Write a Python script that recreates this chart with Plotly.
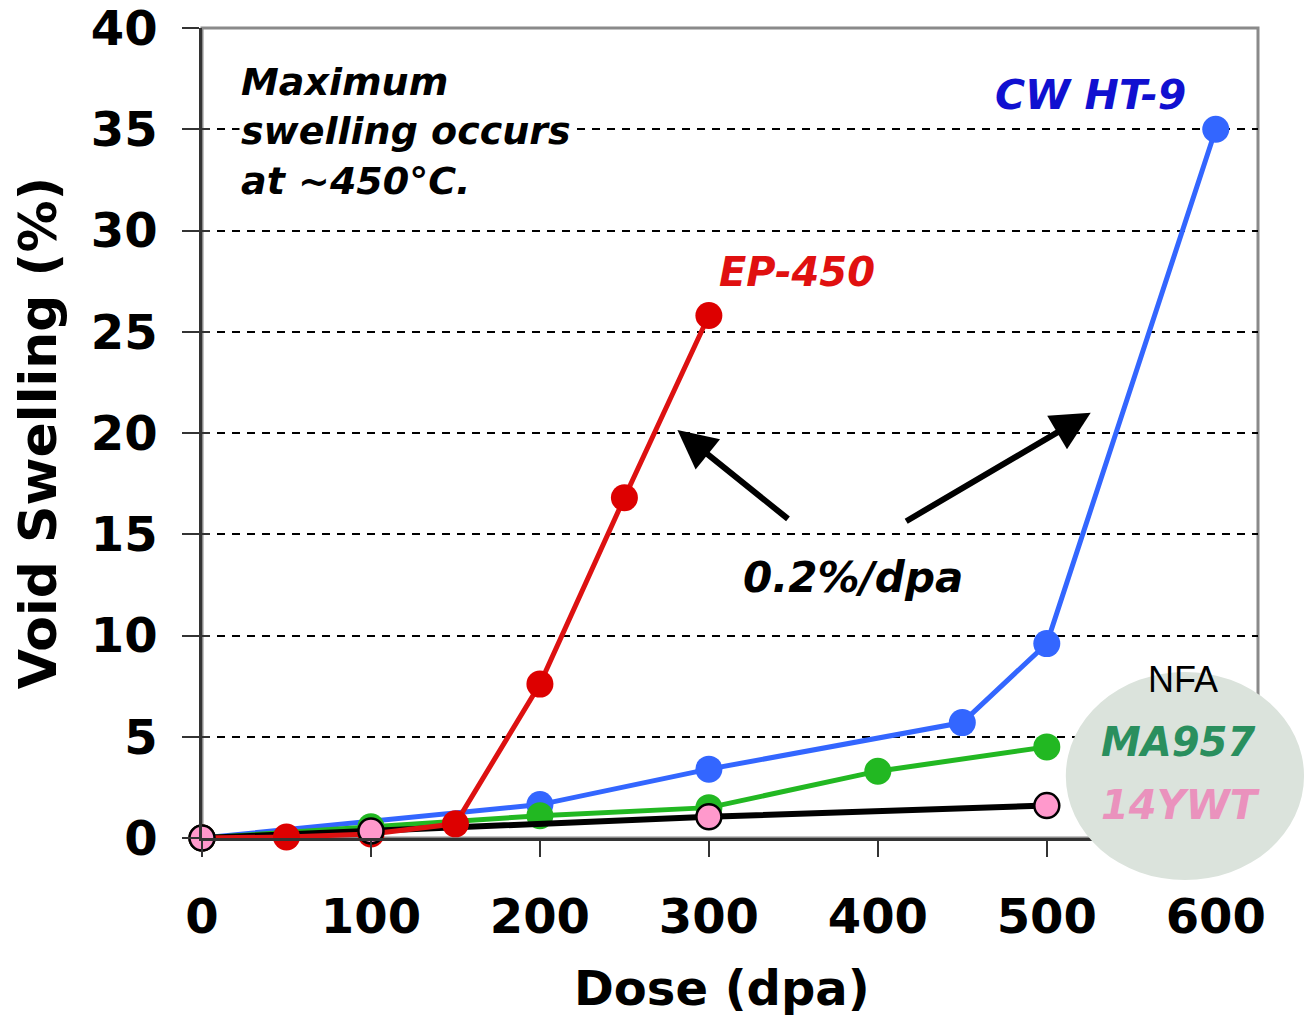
import plotly.graph_objects as go

# Void swelling vs dose for several alloys
ep450_dose = [0, 50, 100, 150, 200, 250, 300]
ep450_swell = [0.0, 0.05, 0.2, 0.7, 7.6, 16.8, 25.8]

ht9_dose = [0, 200, 300, 450, 500, 600]
ht9_swell = [0.0, 1.65, 3.4, 5.7, 9.6, 35.0]

ma957_dose = [0, 100, 200, 300, 400, 500]
ma957_swell = [0.0, 0.55, 1.1, 1.5, 3.3, 4.5]

ywt14_dose = [0, 100, 300, 500]
ywt14_swell = [0.0, 0.35, 1.05, 1.6]

x_ticks = [0, 100, 200, 300, 400, 500, 600]
y_ticks = [0, 5, 10, 15, 20, 25, 30, 35, 40]

FONT = "DejaVu Sans"
MS = 27

fig = go.Figure()

fig.add_trace(go.Scatter(
    x=ht9_dose, y=ht9_swell, mode="lines+markers",
    line=dict(color="#3366ff", width=5),
    marker=dict(color="#3366ff", size=MS), cliponaxis=False, showlegend=False))

fig.add_trace(go.Scatter(
    x=ma957_dose, y=ma957_swell, mode="lines+markers",
    line=dict(color="#22b822", width=5),
    marker=dict(color="#22b822", size=MS), cliponaxis=False, showlegend=False))

fig.add_trace(go.Scatter(
    x=ywt14_dose, y=ywt14_swell, mode="lines",
    line=dict(color="black", width=6), cliponaxis=False, showlegend=False))

fig.add_trace(go.Scatter(
    x=ep450_dose, y=ep450_swell, mode="lines+markers",
    line=dict(color="#dd1111", width=5),
    marker=dict(color="#dd0000", size=MS), cliponaxis=False, showlegend=False))

fig.add_trace(go.Scatter(
    x=ywt14_dose, y=ywt14_swell, mode="markers",
    marker=dict(color="#ff99cc", size=25, line=dict(color="black", width=2.5)),
    cliponaxis=False, showlegend=False))

# secondary axis only for the inward half of the y ticks
fig.add_trace(go.Scatter(x=[None], y=[None], yaxis="y2", showlegend=False))

annotations = [
    dict(x=22, y=34.9, xref="x", yref="y", xanchor="left", yanchor="middle", align="left",
         text="<b><i>Maximum<br>swelling occurs<br>at ~450°C.</i></b>",
         font=dict(family=FONT, size=38, color="black"), bgcolor="white", showarrow=False),
    dict(x=352, y=27.95, xref="x", yref="y", text="<b><i>EP-450</i></b>",
         font=dict(family=FONT, size=40, color="#e01010"), showarrow=False),
    dict(x=526, y=36.7, xref="x", yref="y", text="<b><i>CW HT-9</i></b>",
         font=dict(family=FONT, size=41, color="#1010d0"), showarrow=False),
    dict(x=385, y=12.84, xref="x", yref="y", text="<b><i>0.2%/dpa</i></b>",
         font=dict(family=FONT, size=42, color="black"), showarrow=False),
    dict(x=281.4, y=20.15, ax=347.7, ay=15.7, xref="x", yref="y", axref="x", ayref="y",
         text="", showarrow=True, arrowhead=2, arrowsize=1.3, arrowwidth=6, arrowcolor="black"),
    dict(x=526, y=21.0, ax=415.9, ay=15.6, xref="x", yref="y", axref="x", ayref="y",
         text="", showarrow=True, arrowhead=2, arrowsize=1.3, arrowwidth=6, arrowcolor="black"),
    dict(x=580.6, y=7.85, xref="x", yref="y", text="NFA",
         font=dict(family="Liberation Sans", size=36, color="black"), showarrow=False),
    dict(x=577.6, y=4.74, xref="x", yref="y", text="<b><i>MA957</i></b>",
         font=dict(family=FONT, size=40, color="#2a8f5e"), showarrow=False),
    dict(x=579.4, y=1.63, xref="x", yref="y", text="<b><i>14YWT</i></b>",
         font=dict(family=FONT, size=40, color="#ea92bd"), showarrow=False),
    # x-axis title
    dict(x=0.492, y=-0.185, xref="paper", yref="paper", text="<b>Dose (dpa)</b>",
         font=dict(family=FONT, size=48, color="black"), showarrow=False,
         xanchor="center", yanchor="middle"),
]

shapes = [
    # grey frame on the top and right
    dict(type="rect", xref="paper", yref="paper", x0=0, x1=1, y0=0, y1=1,
         line=dict(color="#8a8a8a", width=3), layer="below"),
    # shaded ellipse behind the NFA labels
    dict(type="circle", xref="paper", yref="paper", x0=0.818, x1=1.0436, y0=-0.052, y1=0.205,
         fillcolor="#dbe3dc", line=dict(width=0), layer="above"),
]

fig.update_layout(
    width=1309, height=1021,
    margin=dict(l=202, r=51, t=28, b=183, autoexpand=False),
    plot_bgcolor="white", paper_bgcolor="white",
    font=dict(family=FONT, color="black"),
    annotations=annotations, shapes=shapes,
    xaxis=dict(
        range=[0, 625], tickvals=x_ticks, ticktext=[str(v) for v in x_ticks],
        ticks="outside", ticklen=16, tickwidth=2, tickcolor="#333333",
        showline=True, linecolor="#333333", linewidth=2.5,
        showgrid=False, zeroline=False,
        tickfont=dict(family=FONT, size=48, color="black", weight="bold"),
        ticklabelstandoff=19, ticklabeloverflow="allow",
        automargin=False,
    ),
    yaxis=dict(
        range=[0, 40], tickvals=y_ticks, ticktext=[str(v) for v in y_ticks],
        ticks="outside", ticklen=17, tickwidth=2, tickcolor="#333333",
        showline=True, linecolor="#333333", linewidth=2.5,
        showgrid=True, gridcolor="black", gridwidth=1.5, griddash="8px,7px",
        zeroline=False,
        tickfont=dict(family=FONT, size=48, color="black", weight="bold"),
        ticklabelstandoff=15, ticklabeloverflow="allow",
        title=dict(text="<b>Void Swelling (%)</b>", font=dict(family=FONT, size=52, color="black"),
                   standoff=18),
        automargin=False,
    ),
    yaxis2=dict(
        range=[0, 40], tickvals=y_ticks, overlaying="y", side="left",
        ticks="inside", ticklen=8, tickwidth=2, tickcolor="#333333",
        showticklabels=False, showgrid=False, zeroline=False, showline=False,
    ),
)

fig.write_html("out.html")
